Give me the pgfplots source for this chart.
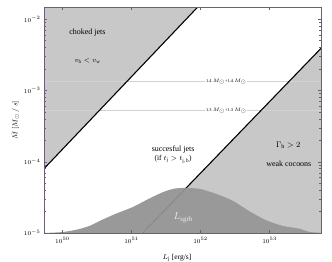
\documentclass[border=0pt]{standalone}
\usepackage{pgfplots}
\pgfplotsset{compat=1.18}
\usepackage{fontspec}
\setmainfont{Liberation Serif}
\definecolor{lightfill}{HTML}{C8C8C8}
\definecolor{darkfill}{HTML}{999999}
\definecolor{framecol}{HTML}{6E5F78}
\begin{document}
\begin{tikzpicture}
\useasboundingbox (-44bp,-29bp) rectangle (288bp,233bp);
\begin{axis}[at={(0,0)}, anchor=south west, scale only axis,
  width=277bp, height=226bp,
  xmode=log, ymode=log,
  xmin=5.4e49, xmax=5.56e53, ymin=1e-5, ymax=1.48e-2,
  xtick={1e50,1e51,1e52,1e53}, ytick={1e-5,1e-4,1e-3,1e-2},
  xminorticks=false,
  tick align=inside,
  axis line style={framecol, line width=0.6pt},
  tick style={framecol, line width=0.4pt},
  major tick length=3bp, minor tick length=1.8bp,
  tick label style={font=\fontsize{6.5}{7}\selectfont},
  xticklabel style={yshift=-1bp},
  xlabel={$L_{\rm j}$ [erg/s]}, ylabel={$\dot M\,[M_\odot\,/\,s]$},
  label style={font=\fontsize{7.5}{8}\selectfont},
  xlabel style={at={(axis description cs:0.48,-0.11)}, anchor=center},
  ylabel style={at={(axis description cs:-0.105,0.5)}, anchor=center},
  axis on top, clip=true]

% upper-left region (choked jets)
\addplot[fill=lightfill, draw=none] coordinates {(5.4e49,8.0e-5) (9.1e51,1.48e-2) (5.4e49,1.48e-2) (5.4e49,8.0e-5)};
% lower-right region
\addplot[fill=lightfill, draw=none] coordinates {(1.45e51,1e-5) (5.56e53,3.9e-3) (5.56e53,1e-5) (1.45e51,1e-5)};

% horizontal reference lines
\addplot[gray!35, line width=0.5pt] coordinates {(5.4e49,1.33e-3) (5.56e53,1.33e-3)};
\addplot[gray!35, line width=0.5pt] coordinates {(5.4e49,5.2e-4) (5.56e53,5.2e-4)};

% boundary lines
\addplot[black, line width=1.1pt] coordinates {(5.4e49,8.0e-5) (9.1e51,1.48e-2)};
\addplot[black, line width=1.1pt] coordinates {(1.45e51,1e-5) (5.56e53,3.9e-3)};

% L_sgrb bump
\addplot[fill=darkfill, draw=none, smooth, tension=0.5] coordinates {
(5.37e49,1e-5) (9.77e49,1.03e-5) (1.51e50,1.10e-5) (1.95e50,1.17e-5)
(2.63e50,1.29e-5) (3.47e50,1.48e-5) (5.89e50,1.86e-5) (1.05e51,2.32e-5)
(1.86e51,3.09e-5) (3.16e51,3.89e-5) (4.90e51,4.27e-5) (9.55e51,4.17e-5)
(1.66e52,3.55e-5) (2.95e52,2.82e-5) (5.01e52,2.04e-5) (8.91e52,1.51e-5)
(1.55e53,1.26e-5) (2.69e53,1.15e-5) (3.80e53,1.035e-5) (5.56e53,1e-5) (5.6e53,0.9e-5) (5.3e49,0.9e-5)};
\addplot[gray, line width=0.5pt] coordinates {(1.45e51,1e-5) (6.16e51,4.25e-5)};

% labels
\node[fill=white, inner sep=0.8pt, font=\fontsize{4.5}{5}\selectfont] at (axis cs:2.36e52,1.33e-3) {1.4 $M_\odot$+1.4 $M_\odot$};
\node[fill=white, inner sep=0.8pt, font=\fontsize{4.5}{5}\selectfont] at (axis cs:2.36e52,5.2e-4) {1.3 $M_\odot$+1.3 $M_\odot$};
\node[font=\fontsize{8}{9}\selectfont] at (axis cs:2.3e50,6.4e-3) {choked jets};
\node[font=\fontsize{7}{8}\selectfont] at (axis cs:2.3e50,2.57e-3) {$v_{\rm h} < v_{\rm w}$};
\node[font=\fontsize{8}{9}\selectfont] at (axis cs:4.0e51,1.46e-4) {succesful jets};
\node[font=\fontsize{7.5}{8}\selectfont] at (axis cs:4.0e51,1.08e-4) {(if $t_{\rm j} > t_{\rm j,b}$)};
\node[font=\fontsize{8}{9}\selectfont] at (axis cs:1.86e53,1.7e-4) {$\Gamma_{\rm h} > 2$};
\node[font=\fontsize{8}{9}\selectfont] at (axis cs:1.9e53,9.5e-5) {weak cocoons};
\node[text=white!85!gray, font=\fontsize{10}{11}\selectfont] at (axis cs:5.6e51,1.63e-5) {$L_{\rm sgrb}$};
\end{axis}
\end{tikzpicture}
\end{document}
